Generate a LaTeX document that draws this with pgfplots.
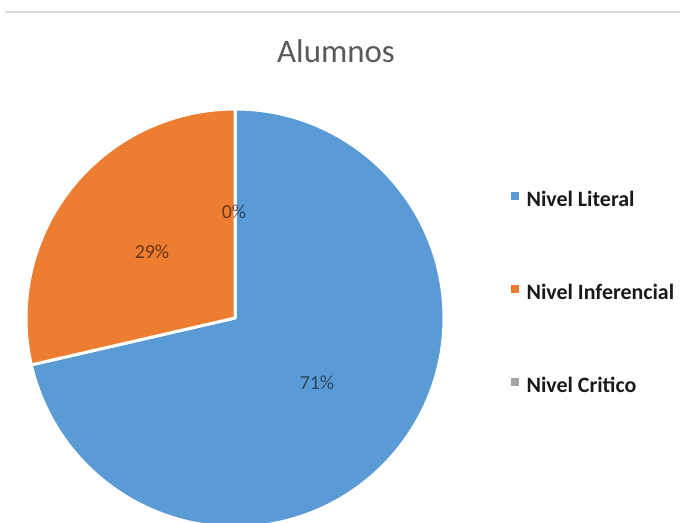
\documentclass[border=0pt]{standalone}
\usepackage{pgfplots}
\pgfplotsset{compat=1.18}
\usepackage{pgfplotstable}
\usepackage{fontspec}
\setmainfont{Carlito}
\definecolor{cLit}{HTML}{5B9BD5}
\definecolor{cInf}{HTML}{ED7D31}
\definecolor{cCri}{HTML}{A5A5A5}
\definecolor{titlegray}{HTML}{595959}
\definecolor{legtext}{HTML}{1A1A1A}
\definecolor{rulegray}{HTML}{D9D9D9}

% value = share of students (percent)
\pgfplotstableread[col sep=comma]{
name,value
Nivel Literal,71.4
Nivel Inferencial,28.6
Nivel Critico,0
}\datatable

\pgfplotstablegetelem{0}{value}\of\datatable \let\vA\pgfplotsretval
\pgfplotstablegetelem{1}{value}\of\datatable \let\vB\pgfplotsretval
\pgfplotstablegetelem{2}{value}\of\datatable \let\vC\pgfplotsretval
\pgfmathsetmacro\aA{90-3.6*\vA}
\pgfmathsetmacro\aB{\aA-3.6*\vB}
\pgfmathtruncatemacro\tA{round(\vA)}
\pgfmathtruncatemacro\tB{round(\vB)}
\pgfmathtruncatemacro\tC{round(\vC)}

\begin{document}
\begin{tikzpicture}
\useasboundingbox (0,0) rectangle (680bp,523bp);
\begin{axis}[
  at={(0,0)}, anchor=south west,
  width=680bp, height=523bp, scale only axis,
  xmin=0, xmax=680, ymin=0, ymax=523,
  hide axis,
  legend style={
    at={(axis cs:511,332)}, anchor=north west,
    draw=none, fill=none, inner sep=0pt,
    row sep=73bp,
    nodes={inner xsep=4bp, inner ysep=0pt, text height=15bp, text depth=5bp,
      font=\fontsize{22}{26}\selectfont\bfseries, text=legtext},
    legend cell align=left,
  },
]
% top rule
\draw[rulegray, line width=1.2bp] (axis cs:5,511) -- (axis cs:680,511);
% title
\node[anchor=base, text=titlegray, font=\fontsize{33}{40}\selectfont] at (axis cs:336,460) {Alumnos};
% slices
\fill[cLit, draw=white, line width=3bp, line join=round]
  (axis cs:235,205) -- ++(90:209bp) arc[start angle=90, end angle=\aA, radius=209bp] -- cycle;
\fill[cInf, draw=white, line width=3bp, line join=round]
  (axis cs:235,205) -- ++(\aA:209bp) arc[start angle=\aA, end angle=\aB, radius=209bp] -- cycle;
% data labels
\node[text=black, text opacity=0.55, font=\fontsize{20}{24}\selectfont] at (axis cs:317,140) {\tA\%};
\node[text=black, text opacity=0.55, font=\fontsize{20}{24}\selectfont] at (axis cs:152,271) {\tB\%};
\node[text=black, text opacity=0.55, font=\fontsize{20}{24}\selectfont] at (axis cs:234,311) {\tC\%};
% legend
\addlegendimage{legend image code/.code={\fill[cLit] (2bp,2bp) rectangle (9bp,9bp); \path (13bp,0bp);}}
\addlegendentry{Nivel Literal}
\addlegendimage{legend image code/.code={\fill[cInf] (2bp,2bp) rectangle (9bp,9bp); \path (13bp,0bp);}}
\addlegendentry{Nivel Inferencial}
\addlegendimage{legend image code/.code={\fill[cCri] (2bp,2bp) rectangle (9bp,9bp); \path (13bp,0bp);}}
\addlegendentry{Nivel Critico}
\end{axis}
\end{tikzpicture}
\end{document}
